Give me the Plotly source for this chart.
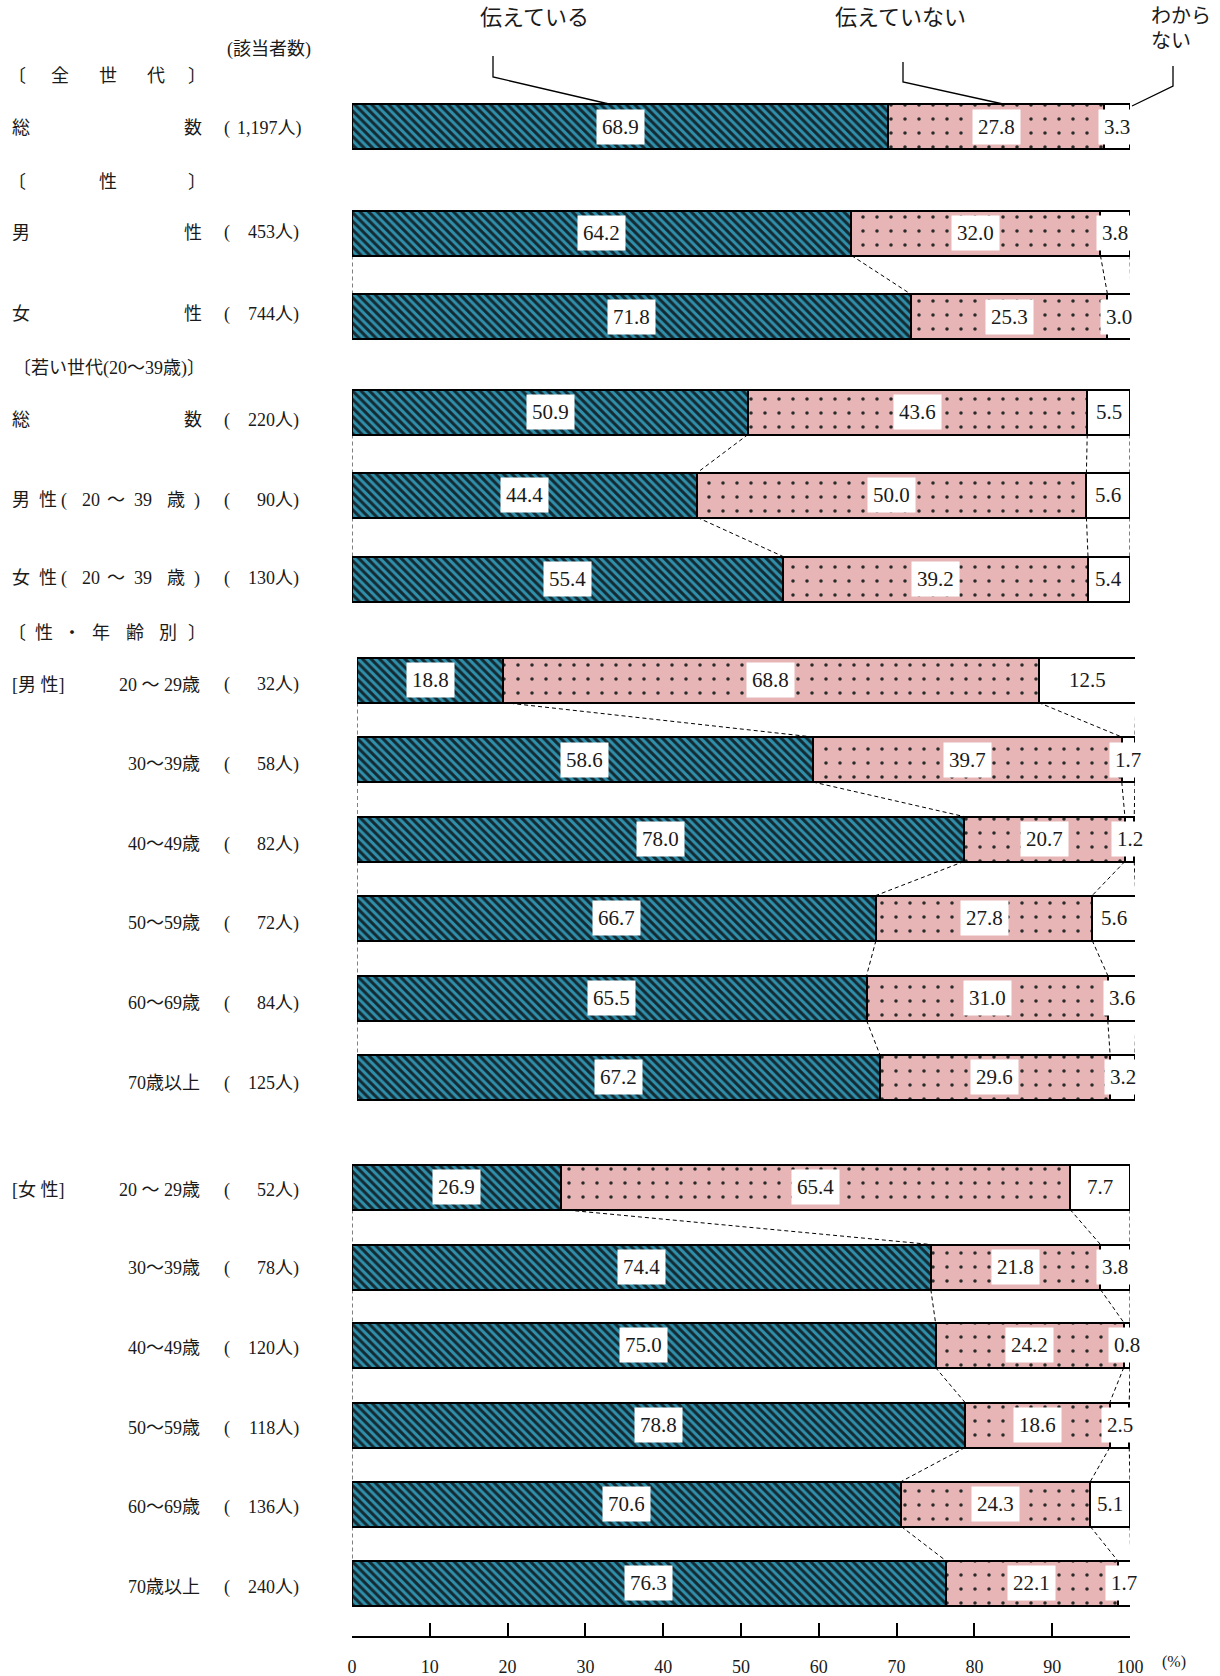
import re
import plotly.graph_objects as go

# ---------------- data ----------------
series = ["伝えている", "伝えていない", "わからない"]
row_names = ["総数", "男性", "女性",
             "総数", "男性(20〜39歳)", "女性(20〜39歳)",
             "20 〜 29歳", "30〜39歳", "40〜49歳", "50〜59歳", "60〜69歳", "70歳以上",
             "20 〜 29歳", "30〜39歳", "40〜49歳", "50〜59歳", "60〜69歳", "70歳以上"]
counts = ["1,197", "453", "744",
          "220", "90", "130",
          "32", "58", "82", "72", "84", "125",
          "52", "78", "120", "118", "136", "240"]
told = [68.9, 64.2, 71.8,
        50.9, 44.4, 55.4,
        18.8, 58.6, 78.0, 66.7, 65.5, 67.2,
        26.9, 74.4, 75.0, 78.8, 70.6, 76.3]
not_told = [27.8, 32.0, 25.3,
            43.6, 50.0, 39.2,
            68.8, 39.7, 20.7, 27.8, 31.0, 29.6,
            65.4, 21.8, 24.2, 18.6, 24.3, 22.1]
unknown = [3.3, 3.8, 3.0,
           5.5, 5.6, 5.4,
           12.5, 1.7, 1.2, 5.6, 3.6, 3.2,
           7.7, 3.8, 0.8, 2.5, 5.1, 1.7]
x_ticks = [0, 10, 20, 30, 40, 50, 60, 70, 80, 90, 100]

# ---------------- layout (pixels) ----------------
W, H = 1220, 1676
PLOT_BOTTOM = 1636
BAR_H = 45
row_y = [126.5, 233, 316.5, 412, 495, 579,
         680, 759.5, 839, 918, 998, 1077,
         1187, 1267, 1345, 1425, 1504, 1583]
label_y = [128, 233, 314, 420, 500, 578,
           685, 764, 844, 923, 1003, 1083,
           1190, 1268, 1348, 1428, 1507, 1587]
row_axis = ["x"] * 6 + ["x2"] * 6 + ["x"] * 6
groups = [[0], [1, 2], [3, 4, 5], list(range(6, 12)), list(range(12, 18))]

TEAL = "#2f90ac"
TEAL_DARK = "#142a32"
PINK = "#e7b5b6"
DOT = "#2a2a2a"
FONT = "Liberation Serif, Noto Sans CJK JP"
TXT = "#1a1a1a"

values = [told, not_told, unknown]
styles = [
    dict(color=TEAL, pattern=dict(shape="\\", fgcolor=TEAL_DARK, bgcolor=TEAL,
                                  size=6, solidity=0.5, fillmode="replace")),
    dict(color=PINK, pattern=dict(shape=".", fgcolor=DOT, bgcolor=PINK,
                                  size=14, solidity=0.05, fillmode="replace")),
    dict(color="white"),
]

fig = go.Figure()

for ax in ["x", "x2"]:
    idx = [i for i in range(len(row_y)) if row_axis[i] == ax]
    for k in range(3):
        fig.add_trace(go.Bar(
            orientation="h",
            x=[values[k][i] for i in idx],
            y=[row_y[i] for i in idx],
            width=BAR_H,
            name=series[k],
            xaxis=ax, yaxis="y",
            cliponaxis=False,
            marker=dict(**styles[k], line=dict(color="black", width=2.4)),
            hoverinfo="skip",
            showlegend=False,
        ))

# dashed connectors between consecutive bars in a group
for g in groups:
    for a, b in zip(g[:-1], g[1:]):
        ba = [0, told[a], told[a] + not_told[a], told[a] + not_told[a] + unknown[a]]
        bb = [0, told[b], told[b] + not_told[b], told[b] + not_told[b] + unknown[b]]
        xs, ys = [], []
        for k in range(4):
            xs += [ba[k], bb[k], None]
            ys += [row_y[a] + BAR_H / 2, row_y[b] - BAR_H / 2, None]
        fig.add_trace(go.Scatter(
            x=xs, y=ys, mode="lines", xaxis=row_axis[a], yaxis="y",
            line=dict(color="black", width=1, dash="4px,3px"),
            hoverinfo="skip", showlegend=False,
        ))

annotations = []

# value labels
for i in range(len(row_y)):
    cum = 0
    for k in range(3):
        v = values[k][i]
        annotations.append(dict(
            x=cum + v / 2, y=row_y[i], xref=row_axis[i], yref="y",
            text=f"{v:.1f}", showarrow=False, bgcolor="white",
            borderpad=5, height=24,
            font=dict(family=FONT, size=21, color=TXT),
        ))
        cum += v


def lab(text, xpx, ypx, anchor="center", size=18):
    annotations.append(dict(
        x=xpx / W, y=1 - ypx / PLOT_BOTTOM, xref="paper", yref="paper",
        text=text, showarrow=False,
        xanchor=anchor, yanchor="middle",
        font=dict(family=FONT, size=size, color=TXT),
    ))


def spread(text, xs, ypx, size=18):
    for ch, xp in zip(text, xs):
        lab(ch, xp, ypx, size=size)


# section headers
lab("(該当者数)", 269, 50)
spread("〔全世代〕", [17, 60, 108, 156, 197], 76)
spread("〔性〕", [17, 108, 197], 182)
lab("〔若い世代(20〜39歳)〕", 11, 368, anchor="left")
spread("〔性・年齢別〕", [17, 44, 72, 101, 135, 168, 197], 633)
lab("[男 性]", 10, label_y[6], anchor="left")
lab("[女 性]", 10, label_y[12], anchor="left")

# row labels
for i, name in enumerate(row_names):
    y = label_y[i]
    if i <= 3:
        lab(name[0], 21, y)
        lab(name[-1], 193, y)
    elif i <= 5:
        toks = re.findall(r"\d+|\S", name)
        for t, xp in zip(toks, [21, 48, 64, 91, 116, 143, 176, 197]):
            lab(t, xp, y)
    else:
        lab(name, 202, y, anchor="right")
    lab("(", 227, y)
    lab(f"{counts[i]}人)", 304 if i == 0 else 301, y, anchor="right")

# top legend labels with pointer lines
lab(series[0], 534, 18, size=22)
lab(series[1], 900, 18, size=22)
lab("わから", 1149, 16, anchor="left", size=20)
lab("ない", 1149, 41, anchor="left", size=20)
lab("(%)", 1174, 1662, size=16)

shapes = []
pointers = [
    [(493, 56), (493, 77), (609, 104)],
    [(903, 62), (903, 82), (1003, 104)],
    [(1173, 66), (1173, 86), (1132, 106)],
]
for pts in pointers:
    path = "M " + " L ".join(f"{px / W},{py}" for px, py in pts)
    shapes.append(dict(type="path", path=path, xref="paper", yref="y",
                       line=dict(color="black", width=1.3)))

fig.update_layout(
    width=W, height=H,
    margin=dict(l=0, r=0, t=0, b=H - PLOT_BOTTOM, pad=0, autoexpand=False),
    paper_bgcolor="white", plot_bgcolor="rgba(0,0,0,0)",
    barmode="stack", bargap=0,
    showlegend=False,
    font=dict(family=FONT, size=18, color=TXT),
    xaxis=dict(domain=[352 / W, 1130 / W], range=[0, 100], tickvals=x_ticks,
               ticks="inside", ticklen=13, tickwidth=1.5, tickcolor="black",
               showline=True, linecolor="black", linewidth=1.5,
               showgrid=False, zeroline=False, fixedrange=True,
               automargin=False, ticklabelstandoff=14,
               tickfont=dict(family=FONT, size=18, color=TXT)),
    xaxis2=dict(domain=[357 / W, 1135 / W], range=[0, 100],
                anchor="y", visible=False, fixedrange=True, automargin=False,
                showgrid=False, zeroline=False),
    yaxis=dict(domain=[0, 1], range=[PLOT_BOTTOM, 0], visible=False,
               fixedrange=True, automargin=False),
    annotations=annotations,
    shapes=shapes,
)

fig.write_html(
    "out.html",
    config={"displayModeBar": False},
    post_script="document.body.style.margin='0';document.body.style.overflow='hidden';",
)
